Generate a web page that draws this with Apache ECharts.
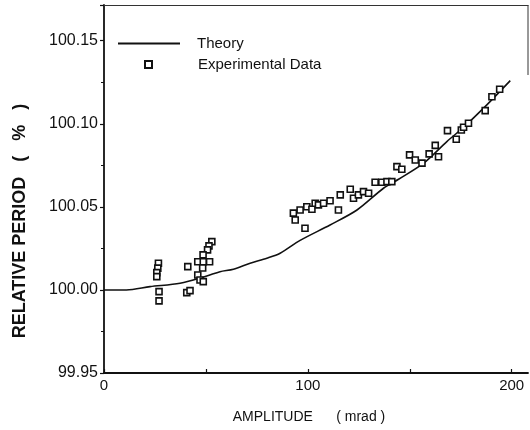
<!DOCTYPE html>
<html>
<head>
<meta charset="utf-8">
<script src="https://cdn.jsdelivr.net/npm/echarts@6/dist/echarts.min.js"></script>
<style>html,body{margin:0;padding:0;background:#fff}#c{width:530px;height:430px}</style>
</head>
<body>
<div id="c"></div>
<script>
// Theory curve (amplitude in mrad, relative period in %)
const theoryX = [0, 11, 22.6, 37.3, 50.4, 56.9, 63.5, 71.7, 79.9, 86.4, 96.2, 110.9, 124.1, 137.1, 144.5, 156.8, 168.2, 176.4, 186.2, 199.3];
const theoryY = [100.0000, 100.0000, 100.0020, 100.0040, 100.0084, 100.0110, 100.0125, 100.0161, 100.0191, 100.0221, 100.0298, 100.0391, 100.0481, 100.0612, 100.0666, 100.0763, 100.0893, 100.0979, 100.1094, 100.1260];

// Experimental data
const expX = [26.7, 26.4, 25.9, 25.9, 27.0, 27.0,
  41.1, 40.6, 42.2,
  52.9, 51.5, 50.8, 48.6, 46.0, 48.7, 51.8, 48.4, 46.0, 47.1, 48.7,
  92.9, 93.8, 96.2, 98.6, 99.5, 102.0, 103.6, 105.2, 107.7, 110.9, 115.0, 115.9, 120.8, 122.4, 124.8, 127.3, 129.8,
  133.0, 136.3, 138.8, 141.2, 143.7, 146.1, 149.9, 152.7, 156.0, 159.5, 162.5, 164.1,
  168.5, 172.8, 175.3, 176.4, 178.8, 187.0, 190.3, 194.1];
const expY = [100.0161, 100.0131, 100.0104, 100.0080, 99.9990, 99.9934,
  100.0140, 99.9984, 99.9996,
  100.0291, 100.0265, 100.0241, 100.0211, 100.0170, 100.0170, 100.0170, 100.0132, 100.0090, 100.0060, 100.0050,
  100.0462, 100.0421, 100.0481, 100.0371, 100.0501, 100.0486, 100.0522, 100.0512, 100.0522, 100.0537, 100.0481, 100.0572, 100.0606, 100.0552, 100.0572, 100.0592, 100.0582,
  100.0648, 100.0648, 100.0652, 100.0652, 100.0742, 100.0726, 100.0813, 100.0782, 100.0763, 100.0819, 100.0870, 100.0802,
  100.0959, 100.0907, 100.0963, 100.0979, 100.1003, 100.1079, 100.1163, 100.1208];

const yTicks = ['99.95', '100.00', '100.05', '100.10', '100.15'];
const xTicks = ['0', '100', '200'];

const theoryData = theoryX.map((x, i) => [x, theoryY[i]]);
const expData = expX.map((x, i) => [x, expY[i]]);

const chart = echarts.init(document.getElementById('c'), null, {renderer: 'canvas'});
const font = 'Liberation Sans, Arial, sans-serif';
chart.setOption({
  backgroundColor: '#fff',
  animation: false,
  grid: {left: 104, top: 5, right: 2, bottom: 57},
  legend: [{
    orient: 'vertical',
    left: 118, top: 36, padding: 0,
    itemWidth: 62, itemHeight: 8,
    icon: 'path://M0,0H62V2H0Z',
    itemStyle: {color: '#111', borderWidth: 0},
    textStyle: {fontFamily: font, fontSize: 15, color: '#111', padding: [0, 0, 0, 12]},
    data: ['Theory']
  }, {
    orient: 'vertical',
    left: 144, top: 57, padding: 0,
    itemWidth: 7, itemHeight: 7,
    icon: 'rect',
    textStyle: {fontFamily: font, fontSize: 15, color: '#111', padding: [0, 0, 0, 41]},
    data: ['Experimental Data']
  }],
  xAxis: [{
    type: 'value', min: 0, max: 208, interval: 50,
    axisLine: {show: true, lineStyle: {color: '#111', width: 1.8}},
    axisTick: {show: true, inside: true, length: 4, lineStyle: {color: '#111', width: 1.2}},
    axisLabel: {
      margin: 5, fontFamily: font, fontSize: 15, color: '#111', showMaxLabel: false,
      formatter: v => xTicks.indexOf(String(v)) >= 0 ? String(v) : ''
    },
    splitLine: {show: false},
    name: 'AMPLITUDE      ( mrad )', nameLocation: 'middle', nameGap: 37,
    nameTextStyle: {fontFamily: font, fontSize: 14, color: '#111', padding: [0, 14, 0, 0]}
  }, {
    type: 'value', position: 'top', min: 0, max: 208,
    axisLine: {show: true, lineStyle: {color: '#333', width: 1}},
    axisTick: {show: false}, axisLabel: {show: false}, splitLine: {show: false}
  }],
  yAxis: {
    type: 'value', min: 99.95, max: 100.1715, interval: 0.05,
    axisLine: {show: true, lineStyle: {color: '#111', width: 1.8}},
    axisTick: {show: true, length: 4, lineStyle: {color: '#111', width: 1.2}},
    minorTick: {show: true, splitNumber: 2, length: 3, lineStyle: {color: '#111', width: 1}},
    axisLabel: {
      margin: 6, fontFamily: font, fontSize: 16, color: '#111', showMaxLabel: false,
      formatter: v => { const s = v.toFixed(2); return yTicks.indexOf(s) >= 0 ? s : ''; }
    },
    splitLine: {show: false}
  },
  graphic: [
    {type: 'line', shape: {x1: 528, y1: 5, x2: 528, y2: 75}, style: {stroke: '#333', lineWidth: 1}},
    {type: 'text', x: 20, y: 221, rotation: Math.PI / 2,
     style: {text: 'RELATIVE PERIOD   (   %   )', font: 'bold 18px ' + font, fill: '#111',
             textAlign: 'center', textVerticalAlign: 'middle'}}
  ],
  series: [{
    name: 'Theory', type: 'line', data: theoryData, symbol: 'none', smooth: 0.3,
    lineStyle: {color: '#111', width: 1.6}, itemStyle: {color: '#111'}, z: 2
  }, {
    name: 'Experimental Data', type: 'scatter', data: expData, symbol: 'rect', symbolSize: 6,
    itemStyle: {color: '#fff', borderColor: '#111', borderWidth: 1.6, opacity: 1}, z: 3
  }]
});
</script>
</body>
</html>
